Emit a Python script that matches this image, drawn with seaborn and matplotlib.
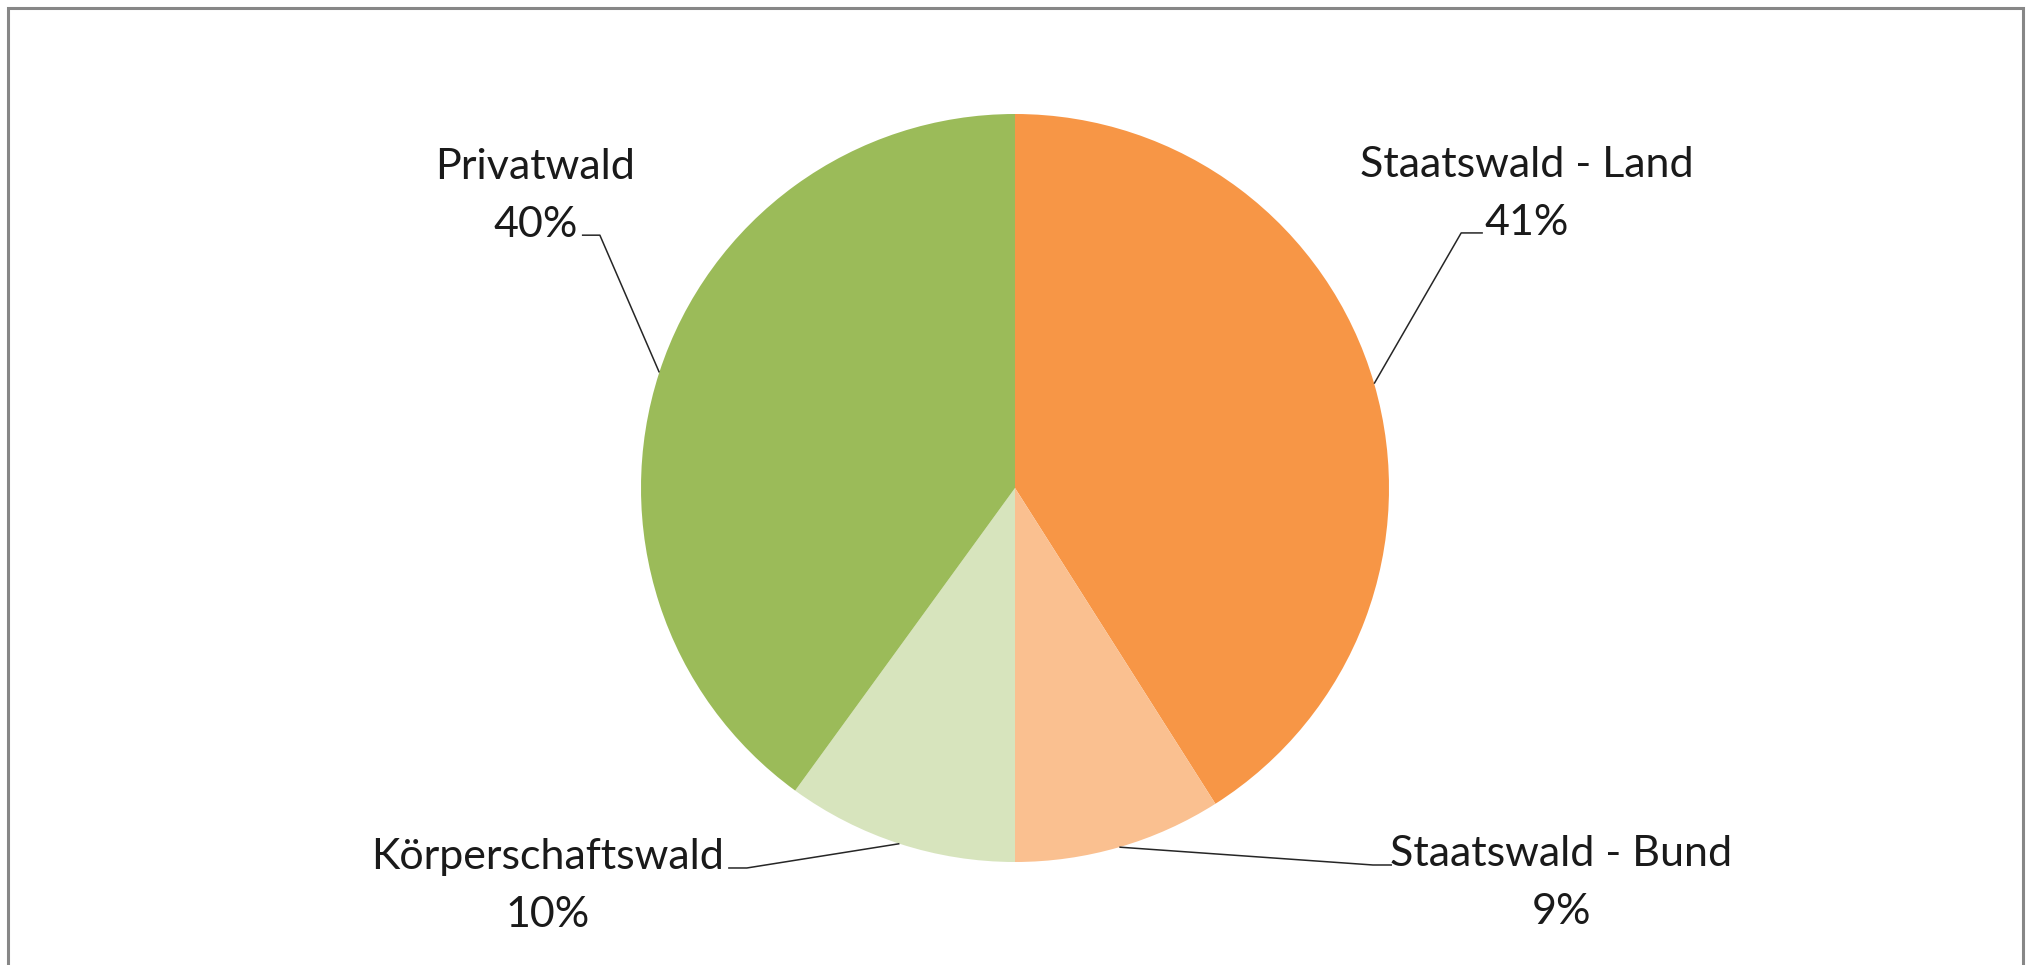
import numpy as np
import matplotlib
matplotlib.use("Agg")
import matplotlib.pyplot as plt
import matplotlib.patches as mpatches
import seaborn as sns

# -------------------------------
# Data
# -------------------------------
categories = ["Staatswald - Land", "Staatswald - Bund", "Körperschaftswald", "Privatwald"]
shares = [41, 9, 10, 40]
pct_labels = ["41%", "9%", "10%", "40%"]
colors = ["#F79646", "#FAC090", "#D7E4BD", "#9BBB59"]

# label layout (data units, pie radius = 1)
label_pos = [(1.369, 0.785), (1.460, -1.056), (-1.251, -1.065), (-1.283, 0.781)]
elbow_pos = [(1.193, 0.682), (0.957, -1.008), (-0.717, -1.016), (-1.110, 0.676)]
end_pos = [(1.251, 0.682), (1.008, -1.008), (-0.767, -1.016), (-1.158, 0.676)]

sns.set_theme(style="white")
plt.rcParams["font.family"] = ["Lato", "DejaVu Sans"]

W, H, DPI = 2031, 965, 100
fig = plt.figure(figsize=(W / DPI, H / DPI), dpi=DPI)
ax = fig.add_axes([0, 0, 1, 1])

wedges, _ = ax.pie(shares, colors=colors, startangle=90, counterclock=False,
                   radius=1.0, center=(0, 0), wedgeprops=dict(linewidth=0))

# pixel mapping: centre at (1015, 488) px, radius 374 px
r_px, cx, cy = 374, 1015, 488
ax.set_xlim(-cx / r_px, (W - cx) / r_px)
ax.set_ylim(-(H - cy) / r_px, cy / r_px)
ax.set_aspect("auto")
ax.axis("off")

# -------------------------------
# Labels with leader lines
# -------------------------------
for w, name, pct, lp, el, en in zip(wedges, categories, pct_labels,
                                    label_pos, elbow_pos, end_pos):
    ang = np.deg2rad((w.theta1 + w.theta2) / 2)
    x0, y0 = np.cos(ang), np.sin(ang)
    ax.plot([x0, el[0], en[0]], [y0, el[1], en[1]], color="#262626", lw=1.1,
            solid_capstyle="butt")
    ax.text(lp[0], lp[1], f"{name}\n{pct}", ha="center", va="center",
            fontsize=31, color="#1a1a1a", linespacing=1.65)

# chart frame
fig.patches.append(mpatches.Rectangle((8.5 / W, -0.05), (2023 - 8.5) / W, 1.05 - 7.5 / H,
                                      transform=fig.transFigure, fill=False,
                                      edgecolor="#878787", linewidth=2.2))

fig.savefig("out.png", dpi=DPI, facecolor="white")
